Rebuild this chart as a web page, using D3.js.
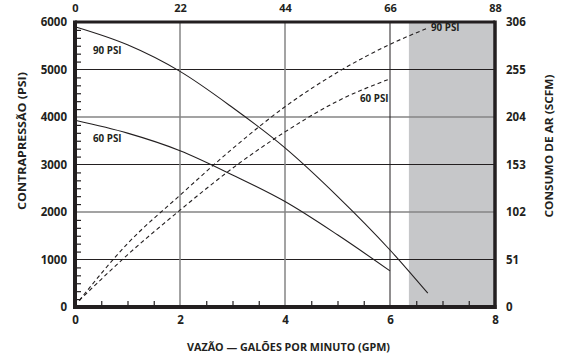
<!DOCTYPE html>
<html>
<head>
<meta charset="utf-8">
<script src="https://cdn.jsdelivr.net/npm/d3@7"></script>
<style>
  html, body { margin: 0; padding: 0; background: #fff; }
  svg { display: block; }
  text { font-family: "Open Sans", "Noto Sans", sans-serif; font-weight: 700; fill: #231f20; }
</style>
</head>
<body>
<svg id="chart" width="563" height="354"></svg>
<script>
// ---- data ----
const xTicks = [0, 2, 4, 6, 8];
const topTickLabels = [0, 22, 44, 66, 88];
const leftTicks = [0, 1000, 2000, 3000, 4000, 5000, 6000];
const rightTicks = [0, 51, 102, 153, 204, 255, 306];
const shadeRange = [6.36, 8];

// back pressure (PSI) vs flow (GPM) — solid curves
const gpmP90 = [0, 1, 2, 3, 4, 5, 6, 6.72];
const psiP90 = [5900, 5520, 4960, 4200, 3350, 2330, 1200, 290];
const gpmP60 = [0, 1, 2, 3, 4, 5, 6];
const psiP60 = [3930, 3660, 3290, 2780, 2220, 1520, 760];

// air consumption (SCFM) vs flow (GPM) — dashed curves
const gpmA90 = [0.08, 1, 2, 3, 4, 5, 6, 6.74];
const scfmA90 = [7, 68, 120, 170, 215, 252, 282, 300];
const gpmA60 = [0.08, 1, 2, 3, 4, 5, 6];
const scfmA60 = [7, 56, 104, 149, 188, 221, 245];

const curveLabels = ["90 PSI", "60 PSI", "90 PSI", "60 PSI"];

// ---- layout ----
const L = 75, R = 495, T = 22, B = 307;
const svg = d3.select("#chart");

const x = d3.scaleLinear().domain([0, 8]).range([L, R]);
const xTop = d3.scaleLinear().domain([0, 88]).range([L, R]);
const yL = d3.scaleLinear().domain([0, 6000]).range([B, T]);
const yR = d3.scaleLinear().domain([0, 306]).range([B, T]);

// shaded region
svg.append("rect")
  .attr("x", x(shadeRange[0])).attr("y", T)
  .attr("width", x(shadeRange[1]) - x(shadeRange[0]))
  .attr("height", B - T)
  .attr("fill", "#c6c7c9");

// gridlines
const hGrid = [1000, 2000, 3000, 4000, 5000];
svg.append("g").selectAll("line").data(hGrid).join("line")
  .attr("x1", L).attr("x2", R)
  .attr("y1", d => yL(d)).attr("y2", d => yL(d))
  .attr("stroke", d => (d / 1000) % 2 === 0 ? "#858585" : "#231f20")
  .attr("stroke-width", d => (d / 1000) % 2 === 0 ? 1.5 : 1);
const vGrid = [2, 4, 6];
svg.append("g").selectAll("line").data(vGrid).join("line")
  .attr("y1", T).attr("y2", B)
  .attr("x1", d => x(d)).attr("x2", d => x(d))
  .attr("stroke", d => d === 6 ? "#231f20" : "#858585")
  .attr("stroke-width", d => d === 6 ? 1 : 1.5);

// minor ticks
const bottomMinor = d3.range(0, 8.01, 0.5).filter(v => v % 2 !== 0);
svg.append("g").attr("transform", `translate(0,${B})`)
  .call(d3.axisBottom(x).tickValues(bottomMinor).tickSize(-6).tickFormat(""))
  .call(g => g.select(".domain").remove())
  .call(g => g.selectAll("line").attr("stroke", "#231f20").attr("stroke-width", 1.2));
const leftMinor = d3.range(0, 6000, 1000 / 6).filter((v, i) => i % 6 !== 0);
svg.append("g").attr("transform", `translate(${L},0)`)
  .call(d3.axisLeft(yL).tickValues(leftMinor).tickSize(-6).tickFormat(""))
  .call(g => g.select(".domain").remove())
  .call(g => g.selectAll("line").attr("stroke", "#231f20").attr("stroke-width", 1.2));

// curves
const line = (xs, ys, ys_scale) => d3.line()
  .x((d, i) => x(xs[i]))
  .y((d, i) => ys_scale(ys[i]))
  .curve(d3.curveMonotoneX)(xs);

svg.append("path").attr("d", line(gpmP90, psiP90, yL))
  .attr("fill", "none").attr("stroke", "#231f20").attr("stroke-width", 1.1);
svg.append("path").attr("d", line(gpmP60, psiP60, yL))
  .attr("fill", "none").attr("stroke", "#231f20").attr("stroke-width", 1.1);
svg.append("path").attr("d", line(gpmA90, scfmA90, yR))
  .attr("fill", "none").attr("stroke", "#231f20").attr("stroke-width", 1.1)
  .attr("stroke-dasharray", "4,3");
svg.append("path").attr("d", line(gpmA60, scfmA60, yR))
  .attr("fill", "none").attr("stroke", "#231f20").attr("stroke-width", 1.1)
  .attr("stroke-dasharray", "4,3");

// frame
svg.append("line").attr("x1", L).attr("x2", R).attr("y1", T).attr("y2", T)
  .attr("stroke", "#231f20").attr("stroke-width", 3);
svg.append("line").attr("x1", R).attr("x2", R).attr("y1", T - 1.5).attr("y2", B + 2)
  .attr("stroke", "#231f20").attr("stroke-width", 3.5);
svg.append("line").attr("x1", L).attr("x2", L).attr("y1", T - 1.5).attr("y2", B + 2)
  .attr("stroke", "#231f20").attr("stroke-width", 4);
svg.append("line").attr("x1", L - 2).attr("x2", R + 1.5).attr("y1", B).attr("y2", B)
  .attr("stroke", "#231f20").attr("stroke-width", 4);

// axes labels
const styleAxis = size => g => {
  g.select(".domain").remove();
  g.selectAll("line").remove();
  g.selectAll("text").attr("font-size", size).attr("fill", "#231f20")
    .style("font-family", '"Open Sans", sans-serif').style("font-weight", 700);
};
svg.append("g").attr("transform", `translate(0,${B})`)
  .call(d3.axisBottom(x).tickValues(xTicks).tickSize(0).tickPadding(9).tickFormat(d3.format("d")))
  .call(styleAxis(11.5));
svg.append("g").attr("transform", `translate(0,${T})`)
  .call(d3.axisTop(xTop).tickValues(topTickLabels).tickSize(0).tickPadding(10.5).tickFormat(d3.format("d")))
  .call(styleAxis(11));
svg.append("g").attr("transform", `translate(${L},0)`)
  .call(d3.axisLeft(yL).tickValues(leftTicks).tickSize(0).tickPadding(8).tickFormat(d3.format("d")))
  .call(styleAxis(11.5));
svg.append("g").attr("transform", `translate(${R},0)`)
  .call(d3.axisRight(yR).tickValues(rightTicks).tickSize(0).tickPadding(11).tickFormat(d3.format("d")))
  .call(styleAxis(11.5));

// axis titles
svg.append("text").attr("x", 288.5).attr("y", 350.5).attr("text-anchor", "middle")
  .attr("font-size", 10.5).attr("textLength", 203).attr("lengthAdjust", "spacingAndGlyphs")
  .text("VAZÃO — GALÕES POR MINUTO (GPM)");
svg.append("text").attr("transform", "translate(25.5,141) rotate(-90)").attr("text-anchor", "middle")
  .attr("font-size", 10.5).attr("textLength", 138).attr("lengthAdjust", "spacingAndGlyphs")
  .text("CONTRAPRESSÃO (PSI)");
svg.append("text").attr("transform", "translate(552.5,146) rotate(-90)").attr("text-anchor", "middle")
  .attr("font-size", 10.5).attr("textLength", 143).attr("lengthAdjust", "spacingAndGlyphs")
  .text("CONSUMO DE AR (SCFM)");

// curve labels
const labelPos = [[93, 54], [93, 141.5], [431, 31.3], [360, 102]];
svg.append("g").selectAll("text").data(curveLabels).join("text")
  .attr("x", (d, i) => labelPos[i][0]).attr("y", (d, i) => labelPos[i][1])
  .attr("font-size", 9.8).text(d => d);
</script>
</body>
</html>
